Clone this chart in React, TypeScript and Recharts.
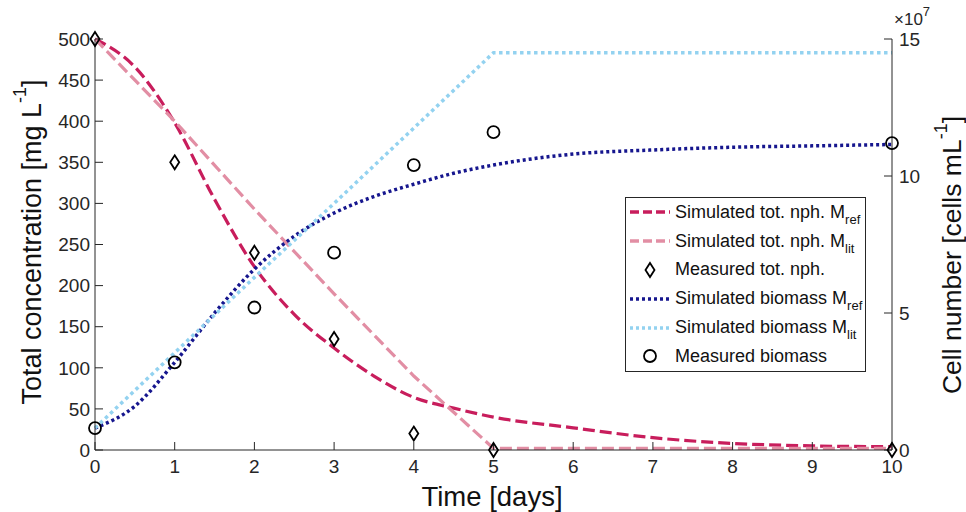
import React from "react";
import { ComposedChart, Line, Scatter, XAxis, YAxis, Legend, Label } from "recharts";

// time axis (days)
const curveDays = [0, 0.5, 1, 1.5, 2, 2.5, 3, 3.5, 4, 4.5, 5, 6, 7, 8, 9, 10];
const litDays = [0, 1, 2, 3, 4, 5, 10];
const measuredDays = [0, 1, 2, 3, 4, 5, 10];

// total naphthalene [mg L-1]
const nphRef = [500, 466, 398, 305, 223, 165, 124, 90, 64, 51, 40, 27, 15, 8, 5, 4];
const nphLit = [500, 400, 293, 190, 90, 2, 2];
const nphMeasured = [500, 350, 240, 135, 20, 0, 0];

// biomass [x10^7 cells mL-1]
const bioRef = [0.8, 1.6, 3.2, 5.0, 6.6, 7.8, 8.65, 9.25, 9.7, 10.1, 10.4, 10.8, 10.95, 11.05, 11.1, 11.15];
const bioLit = [0.8, 3.55, 6.3, 9.0, 11.75, 14.5, 14.5];
const bioMeasured = [0.8, 3.2, 5.2, 7.2, 10.4, 11.6, 11.2];

const dayTicks = [0, 1, 2, 3, 4, 5, 6, 7, 8, 9, 10];
const concTicks = [0, 50, 100, 150, 200, 250, 300, 350, 400, 450, 500];
const cellTicks = [0, 5, 10, 15];

const legendItems = [
  { name: "Simulated tot. nph. M", sub: "ref", kind: "dashRef" },
  { name: "Simulated tot. nph. M", sub: "lit", kind: "dashLit" },
  { name: "Measured tot. nph.", sub: "", kind: "diamond" },
  { name: "Simulated biomass M", sub: "ref", kind: "dotRef" },
  { name: "Simulated biomass M", sub: "lit", kind: "dotLit" },
  { name: "Measured biomass", sub: "", kind: "circle" },
];

const zip = (xs: number[], ys: number[]) => xs.map((day, i) => ({ day, value: ys[i] }));

const FONT = "'Liberation Sans', Arial, sans-serif";
const INK = "#262626";
const RED = "#c81d5c";
const PINK = "#e28ea4";
const NAVY = "#16168e";
const SKY = "#93d2f0";

const Diamond = (props: any) => {
  const { cx, cy } = props;
  if (cx == null || cy == null) return null;
  return (
    <path
      d={`M${cx},${cy - 7} L${cx + 4.5},${cy} L${cx},${cy + 7} L${cx - 4.5},${cy} Z`}
      fill="none"
      stroke="#000"
      strokeWidth={1.8}
    />
  );
};

const Ring = (props: any) => {
  const { cx, cy } = props;
  if (cx == null || cy == null) return null;
  return <circle cx={cx} cy={cy} r={6} fill="none" stroke="#000" strokeWidth={1.8} />;
};

function LegendSymbol({ kind }: { kind: string }) {
  const line = (color: string, dash: string, w: number) => (
    <line x1={1} y1={10} x2={41} y2={10} stroke={color} strokeWidth={w} strokeDasharray={dash} />
  );
  return (
    <svg width={42} height={20} style={{ display: "block", flexShrink: 0 }}>
      {kind === "dashRef" && line(RED, "9 4", 3.5)}
      {kind === "dashLit" && line(PINK, "9 4", 3.5)}
      {kind === "dotRef" && line(NAVY, "3 3", 3.5)}
      {kind === "dotLit" && line(SKY, "3 3", 3.5)}
      {kind === "diamond" && <Diamond cx={21} cy={10} />}
      {kind === "circle" && <Ring cx={21} cy={10} />}
    </svg>
  );
}

function LegendBox() {
  return (
    <div
      style={{
        border: `1px solid ${INK}`,
        background: "#fff",
        width: 241,
        height: 175,
        boxSizing: "border-box",
        fontFamily: FONT,
        fontSize: 18,
        color: "#111",
      }}
    >
      {legendItems.map((item, i) => (
        <div key={i} style={{ display: "flex", alignItems: "center", height: 28.8, paddingLeft: 3 }}>
          <LegendSymbol kind={item.kind} />
          <span style={{ marginLeft: 4, whiteSpace: "nowrap" }}>
            {item.name}
            {item.sub && <span style={{ fontSize: 13, position: "relative", top: 6 }}>{item.sub}</span>}
          </span>
        </div>
      ))}
    </div>
  );
}

const LeftTitle = () => (
  <text x={32} y={242} transform="rotate(-90 32 242)" textAnchor="middle" dominantBaseline="central" fontSize={27} fill="#111" fontFamily={FONT}>
    Total concentration [mg L<tspan fontSize={18} dy={-12}>-1</tspan>
    <tspan dy={12}>]</tspan>
  </text>
);

const RightTitle = () => (
  <g>
    <text x={952} y={255} transform="rotate(-90 952 255)" textAnchor="middle" dominantBaseline="central" fontSize={26.5} fill="#111" fontFamily={FONT}>
      Cell number [cells mL<tspan fontSize={18} dy={-11}>-1</tspan>
      <tspan dy={11}>]</tspan>
    </text>
    <text x={894} y={25} fontSize={17} fill={INK} fontFamily={FONT}>
      ×10<tspan fontSize={13} dy={-9}>7</tspan>
    </text>
  </g>
);

const BottomTitle = () => (
  <text x={492} y={506} textAnchor="middle" fontSize={27.5} fill="#111" fontFamily={FONT}>
    Time [days]
  </text>
);

export default function App() {
  const tickStyle = { fontSize: 19, fill: INK, fontFamily: FONT };
  return (
    <div style={{ position: "absolute", left: 0, top: 0, width: 966, height: 512, background: "#fff" }}>
      <ComposedChart width={966} height={512} margin={{ top: 39, right: 0, bottom: 0, left: 0 }} style={{ fontFamily: FONT }}>
        <XAxis
          xAxisId="bottom"
          dataKey="day"
          type="number"
          domain={[0, 10]}
          ticks={dayTicks}
          height={62}
          stroke={INK}
          tickSize={-8}
          tickMargin={18}
          tick={tickStyle}
        >
          <Label content={BottomTitle} />
        </XAxis>
        <XAxis
          xAxisId="top"
          orientation="top"
          dataKey="day"
          type="number"
          domain={[0, 10]}
          ticks={dayTicks}
          height={0}
          stroke={INK}
          tickSize={-8}
          tick={false}
        />
        <YAxis
          yAxisId="left"
          type="number"
          domain={[0, 500]}
          ticks={concTicks}
          width={95}
          stroke={INK}
          tickSize={-8}
          tickMargin={13}
          tick={tickStyle}
        >
          <Label content={LeftTitle} />
        </YAxis>
        <YAxis
          yAxisId="right"
          orientation="right"
          type="number"
          domain={[0, 15]}
          ticks={cellTicks}
          width={74}
          stroke={INK}
          tickSize={-8}
          tickMargin={15}
          tick={tickStyle}
        >
          <Label content={RightTitle} />
        </YAxis>
        <Legend
          layout="horizontal"
          verticalAlign="middle"
          align="center"
          content={() => <LegendBox />}
          wrapperStyle={{ left: 625, top: 197, width: 241, height: 175 }}
        />

        <Line xAxisId="bottom" yAxisId="left" data={zip(curveDays, nphRef)} dataKey="value" type="monotone" stroke={RED} strokeWidth={3.2} strokeDasharray="12 5" dot={false} isAnimationActive={false} />
        <Line xAxisId="bottom" yAxisId="left" data={zip(litDays, nphLit)} dataKey="value" type="linear" stroke={PINK} strokeWidth={3.2} strokeDasharray="12 5" dot={false} isAnimationActive={false} />
        <Scatter xAxisId="bottom" yAxisId="left" data={zip(measuredDays, nphMeasured)} dataKey="value" shape={Diamond} isAnimationActive={false} />
        <Line xAxisId="bottom" yAxisId="right" data={zip(curveDays, bioRef)} dataKey="value" type="monotone" stroke={NAVY} strokeWidth={3.5} strokeDasharray="3 3" dot={false} isAnimationActive={false} />
        <Line xAxisId="bottom" yAxisId="right" data={zip(litDays, bioLit)} dataKey="value" type="linear" stroke={SKY} strokeWidth={3.5} strokeDasharray="3.5 3.5" dot={false} isAnimationActive={false} />
        <Scatter xAxisId="bottom" yAxisId="right" data={zip(measuredDays, bioMeasured)} dataKey="value" shape={Ring} isAnimationActive={false} />
      </ComposedChart>
    </div>
  );
}
